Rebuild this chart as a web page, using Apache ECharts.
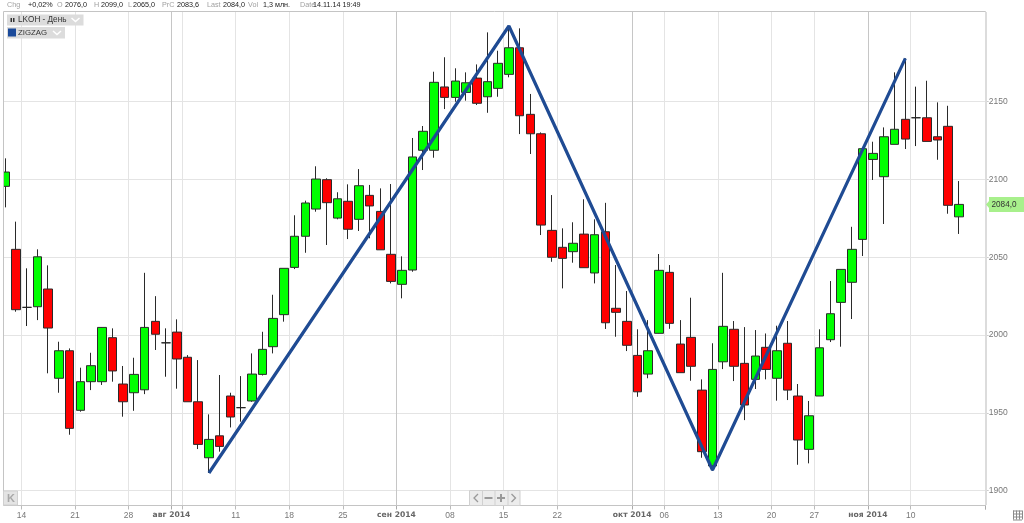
<!DOCTYPE html>
<html><head><meta charset="utf-8">
<style>html,body{margin:0;padding:0;background:#fff}#c{width:1024px;height:523px}</style>
<script src="https://cdn.jsdelivr.net/npm/echarts@6/dist/echarts.min.js"></script>
</head><body><div id="c"></div>
<script>
const dates = [
'07-10','07-11',
'07-14','07-15','07-16','07-17','07-18','07-21','07-22','07-23','07-24','07-25','07-28','07-29','07-30','07-31',
'08-01','08-04','08-05','08-06','08-07','08-08','08-11','08-12','08-13','08-14','08-15','08-18','08-19','08-20','08-21','08-22','08-25','08-26','08-27','08-28','08-29',
'09-01','09-02','09-03','09-04','09-05','09-08','09-09','09-10','09-11','09-12','09-15','09-16','09-17','09-18','09-19','09-22','09-23','09-24','09-25','09-26','09-29','09-30',
'10-01','10-02','10-03','10-06','10-07','10-08','10-09','10-10','10-13','10-14','10-15','10-16','10-17','10-20','10-21','10-22','10-23','10-27','10-28','10-29','10-30','10-31',
'11-03','11-05','11-06','11-07','11-10','11-11','11-12','11-13','11-14','11-17','11-18'];
const opens = [2095.6,2055.1,2017.8,2018.2,2029.6,1972.2,1989.9,1951.6,1970,1970,1998.3,1968.5,1962.9,1964.8,2008.8,1995,2001.9,1985.7,1957.1,1921.1,1935.2,1960.8,1953.3,1957.6,1974.7,1992.5,2013.1,2043.5,2063.5,2081,2099.9,2075.2,2086,2074.4,2089.8,2079.5,2051.9,2032.6,2041.8,2118.8,2118.8,2159.5,2152.8,2156,2165.2,2153.2,2158.6,2167.6,2184.7,2141.9,2129.4,2067.3,2056.4,2053.6,2064.9,2039.9,2066.4,2017.2,2008.8,1986.9,1974.9,2001.1,2040.3,1994.2,1998.5,1964.6,1915.8,1982.8,2003.7,1981.8,1971.5,1992.1,1972.2,1994.7,1960.8,1926.5,1960.8,1997,2021,2033.9,2061.5,2112.9,2101.8,2122.6,2138.7,2139.7,2139.7,2127.5,2134.2,2076];
const closes = [2104.8,2016.3,2017.8,2050.3,2004.5,1989.9,1940,1970,1980.3,2004.9,1976.9,1957.1,1974.7,2004.9,2000.5,1995,1984.6,1957.1,1929.7,1932.9,1928.4,1947.3,1953.3,1974.9,1990.8,2010.7,2042.9,2063.5,2084.9,2100.3,2085.1,2087.6,2068,2096,2083,2054.8,2034.5,2041.6,2114.5,2131,2162.5,2152.8,2163.3,2162.2,2149,2162.9,2174.7,2184.7,2141,2129.4,2070.7,2050,2049.3,2059,2043.3,2064.5,2007.9,2014.6,1993.4,1963.5,1989.9,2041.6,2007.5,1975.8,1979.9,1925,1977.9,2005.6,1979.9,1955,1986.5,1977.9,1989.9,1964.6,1932.5,1948.1,1991.8,2013.7,2042.2,2055.1,2119.8,2116.8,2127.5,2132.3,2126,2139.7,2124.5,2125.4,2083.4,2084];
const lows = [2082.1,2015,2005.8,2009.6,1975.4,1962.9,1935.9,1950.7,1964.6,1967.9,1970,1947.5,1951.3,1962,1990.4,1973.2,1965.5,1957.1,1926.7,1911.3,1925,1940.6,1944.3,1957.1,1974,1988.2,2008.6,2042.4,2052.9,2079.3,2057.9,2074.4,2061.7,2066.9,2062.2,2054.8,2033.2,2023.6,2040.7,2106.1,2114,2145.3,2150,2150.7,2147.9,2142.9,2153.2,2165.7,2129.2,2116.4,2064.3,2047.1,2030,2046.5,2043.3,2033.2,2003.9,1998.9,1989.7,1960.3,1972.2,2001,2004,1975.8,1970.6,1921.1,1912.7,1978.1,1970.4,1945.3,1965.3,1971.5,1957.8,1958.2,1916.6,1917.5,1960.8,1995.5,1992.5,2010.3,2050.8,2099.7,2071.4,2122.6,2119.6,2121.5,2124.5,2112.7,2078,2065];
const highs = [2113.6,2072.9,2042.9,2055.1,2044.8,1995.7,1991.4,1979,1988.6,2005,2004.3,1980.1,1985.4,2040,2025,2004.3,2010.1,1987.1,1983.9,1949,1974.3,1962.9,1973.6,1988.2,2002.1,2025.9,2042.9,2077,2086.4,2108.5,2100.8,2091.8,2096.9,2106.7,2096.5,2094.3,2097.1,2050.6,2126.7,2134.4,2169.3,2178.6,2171.5,2168.9,2174,2194.6,2182.8,2198,2197.2,2155,2130.3,2090,2068.6,2072.5,2087.3,2074.4,2085,2045,2028.3,2003.7,2009.6,2052.1,2045,2009.6,2024,1971.5,1994.7,2040,2009,2005.1,2003.2,2001,2006,2009,1968.5,1957.6,2003.7,2034.7,2042.2,2069.6,2119.8,2124.3,2133.5,2168.9,2177.9,2159.7,2163.5,2149.6,2147.4,2099];
const zigzagDates = ['08-06','09-15','10-10','11-07'];
const zigzagValues = [1911.3,2198.7,1913.2,2177.9];
const weekLabels = {'07-14':'14','07-21':'21','07-28':'28','08-11':'11','08-18':'18','08-25':'25','09-08':'08','09-15':'15','09-22':'22','10-06':'06','10-13':'13','10-20':'20','10-27':'27','11-10':'10'};
const weekLinesOnly = ['08-04'];
const monthLabels = {'08-01':'авг 2014','09-01':'сен 2014','10-01':'окт 2014','11-03':'ноя 2014'};
const yTicks = [1900,1950,2000,2050,2100,2150];
const headerItems = [
 ['Chg',7,'+0,02%',28],['O',57,'2076,0',65],['H',94,'2099,0',101],['L',128,'2065,0',133],
 ['PrC',162,'2083,6',177],['Last',207,'2084,0',223],['Vol',248,'1,3 млн.',263],['Date',300,'14.11.14 19:49',313]];
const FONT = '"Liberation Sans", Arial, sans-serif';

const isWeek = (i, v) => (v in weekLabels) || weekLinesOnly.includes(v);
const isMonth = (i, v) => v in monthLabels;
const txt = (x,y,text,fill,size,extra) => ({type:'text',z:111,x,y,style:Object.assign({text,fill,fontSize:size,fontFamily:FONT,verticalAlign:'top'},extra||{})});

const g = [];
// plot frame
g.push({type:'rect',z:100,shape:{x:0,y:0,width:3,height:523},style:{fill:'#fff'}});
g.push({type:'rect',z:101,shape:{x:3.5,y:11.5,width:982,height:494},style:{fill:'none',stroke:'#c4c4c4',lineWidth:1}});
g.push({type:'rect',z:101,shape:{x:985,y:12,width:2,height:493},style:{fill:'#dcdcdc'}});
// header
headerItems.forEach(h=>{
 g.push(txt(h[1],1.5,h[0],'#a0a0a0',7.2));
 g.push(txt(h[3],1.5,h[2],'#222',7.2));
});
// legend boxes
const chev=(x,y)=>({type:'polyline',z:112,shape:{points:[[x,y],[x+4,y+3.5],[x+8,y]]},style:{stroke:'#fff',lineWidth:1.5,fill:'none'}});
g.push({type:'rect',z:110,shape:{x:7,y:14.5,width:76.5,height:11},style:{fill:'#dcdcdc'}});
g.push({type:'rect',z:111,shape:{x:10.5,y:18,width:1.5,height:4},style:{fill:'#333'}});
g.push({type:'rect',z:111,shape:{x:13,y:18,width:1.5,height:4},style:{fill:'#333'}});
g.push(txt(18,16,'LKOH - День','#333',8.2));
g.push(chev(71.5,18));
g.push({type:'rect',z:110,shape:{x:7,y:27,width:58,height:11.5},style:{fill:'#dcdcdc'}});
g.push({type:'rect',z:111,shape:{x:8,y:28.5,width:8,height:8},style:{fill:'#1b4a9a'}});
g.push(txt(18,28.5,'ZIGZAG','#333',7.8));
g.push(chev(53,31));
// left nav button
g.push({type:'rect',z:110,shape:{x:3.5,y:491,width:14,height:14},style:{fill:'#e4e4e4',stroke:'#d0d0d0'}});
g.push(txt(7,493,'K','#a8a8a8',11,{fontWeight:'bold'}));
// center nav
g.push({type:'rect',z:110,shape:{x:469.5,y:490.5,width:50.5,height:15},style:{fill:'#ececec',stroke:'#d0d0d0'}});
[482,494.5,507.5].forEach(x=>g.push({type:'rect',z:111,shape:{x,y:491,width:1,height:14},style:{fill:'#d0d0d0'}}));
const nav='#999';
g.push({type:'polyline',z:112,shape:{points:[[478,494],[474,498],[478,502]]},style:{stroke:nav,lineWidth:1.3,fill:'none'}});
g.push({type:'rect',z:112,shape:{x:484.5,y:497,width:8,height:2},style:{fill:nav}});
g.push({type:'rect',z:112,shape:{x:497,y:497,width:8,height:2},style:{fill:nav}});
g.push({type:'rect',z:112,shape:{x:500,y:494,width:2,height:8},style:{fill:nav}});
g.push({type:'polyline',z:112,shape:{points:[[511.5,494],[515.5,498],[511.5,502]]},style:{stroke:nav,lineWidth:1.3,fill:'none'}});
// last price tag
g.push({type:'polygon',z:110,shape:{points:[[986,204.5],[989,201],[989,197],[1024,197],[1024,212],[989,212],[989,208]]},style:{fill:'#a8f08c'}});
g.push(txt(991.5,200.5,'2084,0','#333',8.2));
// grid icon
for(let i=0;i<4;i++){
 g.push({type:'rect',z:110,shape:{x:1013,y:510.5+i*3,width:9,height:1},style:{fill:'#8a8a8a'}});
 g.push({type:'rect',z:110,shape:{x:1013+i*3,y:510.5,width:1,height:9},style:{fill:'#8a8a8a'}});
}

const option = {
 animation:false,
 backgroundColor:'#fff',
 grid:{left:0,right:38.3,top:12,bottom:17.5,containLabel:false},
 xAxis:[
  {type:'category',data:dates,position:'bottom',boundaryGap:true,axisLine:{show:false,onZero:false},
   axisTick:{show:true,interval:isWeek,length:4,lineStyle:{color:'#bbb'}},
   axisLabel:{interval:(i,v)=>v in weekLabels,formatter:v=>weekLabels[v]||'',color:'#777',fontFamily:FONT,fontSize:8.5,margin:5.5,padding:[0,10.7,0,0]},
   splitLine:{show:true,interval:isWeek,lineStyle:{color:'#e4e4e4',width:1}}},
  {type:'category',data:dates,position:'bottom',boundaryGap:true,axisLine:{show:false,onZero:false},
   axisTick:{show:true,interval:isMonth,length:4,lineStyle:{color:'#aaa'}},
   axisLabel:{interval:isMonth,formatter:v=>monthLabels[v]||'',color:'#666',fontFamily:'"DejaVu Sans"',fontWeight:'bold',fontSize:7.6,margin:5.5,padding:[0,10.7,0,0]},
   splitLine:{show:true,interval:isMonth,lineStyle:{color:'#c6c6c6',width:1}}}
 ],
 yAxis:{type:'value',position:'right',min:1890.4,max:2207.7,scale:true,
  axisLine:{show:false},
  axisTick:{show:true,length:3,customValues:yTicks,lineStyle:{color:'#ccc'}},
  axisLabel:{customValues:yTicks,color:'#777',fontFamily:FONT,fontSize:8.5,margin:3,formatter:v=>String(v)},
  splitLine:{show:true,lineStyle:{color:'#e4e4e4',width:1}}},
 series:[
  {type:'candlestick',xAxisIndex:0,yAxisIndex:0,barWidth:9,z:3,
   data:dates.map((d,i)=>i<opens.length?[opens[i],closes[i],lows[i],highs[i]]:'-'),
   itemStyle:{color:'#00ff00',color0:'#ff0000',borderColor:'#2a2a2a',borderColor0:'#2a2a2a',borderColorDoji:'#222',borderWidth:1}},
  {type:'line',xAxisIndex:0,yAxisIndex:0,z:5,showSymbol:false,symbol:'none',silent:true,
   data:zigzagDates.map((d,i)=>[d,zigzagValues[i]]),
   lineStyle:{color:'#1f4b93',width:3.2}},
  {type:'line',xAxisIndex:1,yAxisIndex:0,data:[],showSymbol:false}
 ],
 graphic:{elements:g}
};
echarts.init(document.getElementById('c'),null,{renderer:'canvas'}).setOption(option);
</script></body></html>
